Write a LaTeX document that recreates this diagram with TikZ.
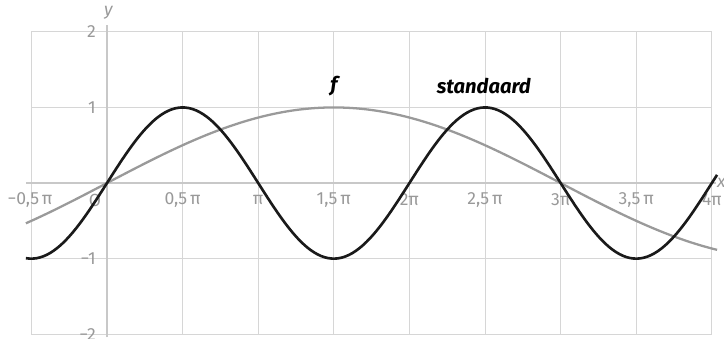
\documentclass[tikz,border=0pt]{standalone}
\usepackage{fontspec}
\setmainfont{Fira Sans}
\usepackage{xcolor}
\usepackage{tikz}
\usetikzlibrary{positioning}

\definecolor{gridgray}{HTML}{D6D6D6}
\definecolor{axisgray}{HTML}{C8C8C8}
\definecolor{labelgray}{HTML}{999999}
\definecolor{curvegray}{HTML}{9A9A9A}
\definecolor{curveblack}{HTML}{1A1A1A}

\tikzset{
  gridline/.style={draw=gridgray, line width=0.6pt},
  axisline/.style={draw=axisgray, line width=1.1pt},
  ticklabel/.style={text=labelgray, font=\fontsize{10}{12}\selectfont, inner sep=1pt},
  curvelabel/.style={font=\fontsize{11.5}{13}\selectfont\bfseries\itshape, inner sep=1pt}
}

\begin{document}
\begin{tikzpicture}[x=0.9626cm, y=1.512cm]
      % scale: 1 px = 0.02 cm, origin at (107,183) px
      \useasboundingbox (-2.223,-2.050) rectangle (12.819,2.421);
      % grid
      \foreach \k in {-1,...,8}
        \draw[gridline] ({\k*pi/2},-2) -- ({\k*pi/2},2);
      \foreach \j in {-2,...,2}
        \draw[gridline] (-pi/2,\j) -- (4*pi,\j);
      % axes
      \coordinate (xstart) at (-1.68,0);
      \coordinate (xend) at (12.65,0);
      \coordinate (ystart) at (0,-2.04);
      \coordinate (yend) at (0,2.09);
      \draw[axisline] (xstart) -- (xend);
      \draw[axisline] (ystart) -- (yend);
      \node[ticklabel, anchor=west, inner sep=0.5pt] (xlab) at (xend) {\itshape x};
      \node[ticklabel] (ylab) at (0.03,2.25) {\itshape y};
      % tick labels
      \node[ticklabel] (xm05) at (-1.60,-0.225) {−0,5\,π};
      \node[ticklabel] (xo) at (-0.25,-0.225) {O};
      \foreach \k/\lab in {1/{0,5\,π}, 2/{π}, 3/{1,5\,π}, 4/{2π}, 5/{2,5\,π}, 6/{3π}, 7/{3,5\,π}, 8/{4π}}
        \node[ticklabel] (x\k) at ({\k*pi/2},-0.225) {\lab};
      \foreach \j/\lab in {2/2, 1/1, -1/−1, -2/−2}
        \node[ticklabel, anchor=east] (y\j) at (-0.19,\j) {\lab};
      % curves
      \draw[curvegray, line width=1.3pt, smooth, samples=120, domain=-1.685:12.675]
        plot (\x, {sin(\x r/3)});
      \draw[curveblack, line width=1.5pt, smooth, samples=200, domain=-1.685:12.675]
        plot (\x, {sin(\x r)});
      \node[curvelabel] (flab) at (4.716,1.283) {f};
      \node[curvelabel] (stdlab) at (7.83,1.283) {standaard};
\end{tikzpicture}
\end{document}
